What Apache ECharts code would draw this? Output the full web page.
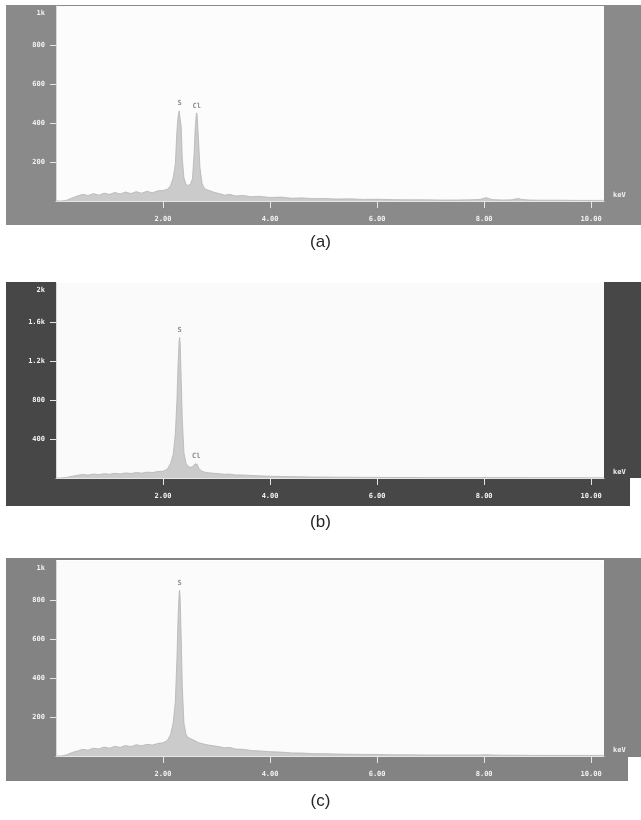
<!DOCTYPE html>
<html>
<head>
<meta charset="utf-8">
<script src="https://cdn.jsdelivr.net/npm/echarts@6/dist/echarts.min.js"></script>
<style>
  html, body { margin: 0; padding: 0; background: #ffffff; }
  #chart { width: 641px; height: 820px; }
</style>
</head>
<body>
<div id="chart"></div>
<script>
// Energy channels (keV) shared by the three EDS spectra
const energy = [
  0.00, 0.10, 0.20, 0.30, 0.40, 0.50, 0.60, 0.70, 0.80, 0.90,
  1.00, 1.10, 1.20, 1.30, 1.40, 1.50, 1.60, 1.70, 1.80, 1.90,
  2.00, 2.08, 2.14, 2.19, 2.23, 2.26, 2.28, 2.30, 2.31, 2.32, 2.34, 2.36, 2.39, 2.43, 2.47,
  2.51, 2.55, 2.58, 2.60, 2.62, 2.63, 2.64, 2.66, 2.69, 2.73, 2.78,
  2.85, 2.95, 3.05, 3.15, 3.25, 3.35, 3.50, 3.65, 3.80, 4.00,
  4.20, 4.40, 4.60, 4.80, 5.00, 5.25, 5.50, 5.75, 6.00, 6.30, 6.60, 6.90, 7.20, 7.50, 7.75,
  7.92, 8.00, 8.04, 8.08, 8.16, 8.35, 8.52, 8.60, 8.64, 8.70, 8.85, 9.10, 9.40, 9.70, 10.00, 10.24
];

// Counts, spectrum (a): S and Cl peaks
const countsA = [
  0, 0, 4, 16, 26, 34, 28, 38, 30, 40,
  34, 44, 36, 46, 38, 48, 40, 50, 42, 52,
  54, 60, 78, 120, 190, 360, 430, 462, 467, 455, 380, 215, 120, 85, 80,
  85, 115, 240, 370, 440, 452, 430, 330, 170, 90, 62,
  55, 45, 38, 30, 34, 26, 28, 22, 24, 18,
  20, 14, 16, 12, 13, 10, 11, 8, 9, 7, 6, 6, 5, 5, 6,
  8, 14, 18, 13, 7, 5, 6, 11, 13, 8, 5, 4, 4, 3, 3, 3
];

// Counts, spectrum (b): strong S peak, small Cl peak
const countsB = [
  0, 0, 6, 18, 28, 36, 30, 40, 34, 44,
  38, 48, 42, 52, 46, 56, 50, 60, 56, 66,
  70, 90, 150, 240, 450, 800, 1150, 1400, 1442, 1380, 1000, 600, 260, 150, 120,
  110, 115, 130, 145, 155, 150, 140, 110, 85, 70, 60,
  54, 48, 44, 38, 40, 32, 30, 26, 22, 18,
  16, 14, 12, 10, 10, 8, 8, 6, 6, 5, 5, 4, 4, 4, 4,
  4, 5, 6, 5, 4, 4, 4, 4, 4, 4, 3, 3, 3, 3, 2, 2
];

// Counts, spectrum (c): S peak only
const countsC = [
  0, 0, 6, 18, 26, 34, 30, 40, 36, 46,
  40, 50, 44, 54, 48, 58, 52, 60, 56, 64,
  68, 80, 110, 170, 280, 500, 700, 830, 850, 810, 600, 360, 170, 110, 95,
  90, 85, 80, 78, 76, 74, 72, 70, 66, 64, 60,
  56, 52, 48, 42, 44, 36, 34, 28, 26, 22,
  20, 16, 15, 12, 12, 10, 9, 8, 8, 6, 6, 5, 5, 5, 5,
  5, 6, 7, 6, 5, 4, 4, 4, 4, 4, 3, 3, 3, 3, 3, 3
];

// Peak identifications
const peakNamesA = ['S', 'Cl'];
const peakEnergiesA = [2.31, 2.63];
const peakNamesB = ['S', 'Cl'];
const peakEnergiesB = [2.31, 2.62];
const peakNamesC = ['S'];
const peakEnergiesC = [2.31];

// Axis ticks and labels
const xTickValues = [2, 4, 6, 8, 10];
const xTickLabels = ['2.00', '4.00', '6.00', '8.00', '10.00'];
const yTickValuesA = [200, 400, 600, 800, 1000];
const yTickLabelsA = ['200', '400', '600', '800', '1k'];
const yTickValuesB = [400, 800, 1200, 1600, 2000];
const yTickLabelsB = ['400', '800', '1.2k', '1.6k', '2k'];
const yTickValuesC = [200, 400, 600, 800, 1000];
const yTickLabelsC = ['200', '400', '600', '800', '1k'];
const captions = ['(a)', '(b)', '(c)'];

const X_MAX = 10.24;
const MONO = 'DejaVu Sans Mono';

const panels = [
  { top: 6,   counts: countsA, names: peakNamesA, peaks: peakEnergiesA, yVals: yTickValuesA, yLabs: yTickLabelsA, frame: '#8a8a8a', plot: '#fcfcfc' },
  { top: 283, counts: countsB, names: peakNamesB, peaks: peakEnergiesB, yVals: yTickValuesB, yLabs: yTickLabelsB, frame: '#474747', plot: '#fafafa' },
  { top: 561, counts: countsC, names: peakNamesC, peaks: peakEnergiesC, yVals: yTickValuesC, yLabs: yTickLabelsC, frame: '#838383', plot: '#fbfbfb' }
];

const PLOT_LEFT = 56, PLOT_W = 548, PLOT_H = 195;

const grids = [], xAxes = [], yAxes = [], series = [], graphics = [];

// Instrument-style frame strips around each plot
const strips = [
  // panel a
  { x: 6, y: 5, w: 50, h: 196, p: 0 }, { x: 6, y: 201, w: 635, h: 24, p: 0 }, { x: 604, y: 5, w: 37, h: 196, p: 0 }, { x: 56, y: 5, w: 548, h: 1, p: 0 },
  // panel b
  { x: 6, y: 282, w: 50, h: 196, p: 1 }, { x: 6, y: 478, w: 624, h: 28, p: 1 }, { x: 604, y: 282, w: 37, h: 196, p: 1 },
  // panel c
  { x: 6, y: 558, w: 50, h: 199, p: 2 }, { x: 6, y: 757, w: 622, h: 24, p: 2 }, { x: 604, y: 558, w: 37, h: 199, p: 2 }, { x: 56, y: 558, w: 548, h: 2, p: 2 }
];
strips.forEach(s => {
  graphics.push({
    type: 'rect', silent: true,
    shape: { x: s.x, y: s.y, width: s.w, height: s.h },
    style: { fill: panels[s.p].frame }
  });
});

panels.forEach((p, i) => {
  grids.push({
    left: PLOT_LEFT, top: p.top, width: PLOT_W, height: PLOT_H,
    show: true, backgroundColor: p.plot, borderWidth: 0
  });
  xAxes.push({
    gridIndex: i, type: 'value', min: 0, max: X_MAX,
    splitLine: { show: false },
    axisLine: { show: true, onZero: false, lineStyle: { color: '#e6e6e6', width: 1 } },
    axisTick: { show: true, length: 7, customValues: xTickValues, lineStyle: { color: '#e6e6e6', width: 1 } },
    axisLabel: {
      customValues: xTickValues, margin: 15,
      formatter: v => xTickLabels[xTickValues.indexOf(v)] || '',
      color: '#f2f2f2', fontFamily: MONO, fontSize: 7, fontWeight: 'bold'
    },
    name: 'keV', nameLocation: 'end', nameGap: 9,
    nameTextStyle: { color: '#f2f2f2', fontFamily: MONO, fontSize: 7, fontWeight: 'bold', verticalAlign: 'bottom', padding: [0, 0, 2, 0] }
  });
  const yMax = p.yVals[p.yVals.length - 1];
  yAxes.push({
    gridIndex: i, type: 'value', min: 0, max: yMax,
    splitLine: { show: false },
    axisLine: { show: true, onZero: false, lineStyle: { color: '#d8d8d8', width: 1 } },
    axisTick: { show: true, length: 6, customValues: p.yVals.slice(0, -1), lineStyle: { color: '#e6e6e6', width: 1 } },
    axisLabel: {
      customValues: p.yVals, margin: 11,
      formatter: v => {
        const t = p.yLabs[p.yVals.indexOf(v)] || '';
        return v === yMax ? '{top|' + t + '}' : t;
      },
      rich: { top: { padding: [14, 0, 0, 0] } },
      color: '#f2f2f2', fontFamily: MONO, fontSize: 7, fontWeight: 'bold'
    }
  });
  // spectrum as a filled histogram outline
  series.push({
    type: 'line', xAxisIndex: i, yAxisIndex: i,
    data: energy.map((e, j) => [e, p.counts[j]]),
    showSymbol: false, symbol: 'none', smooth: false, animation: false,
    lineStyle: { color: '#b4b4b4', width: 0.8 },
    areaStyle: { color: '#cbcbcb', opacity: 1 },
    z: 3
  });
  // element markers above the identified peaks
  series.push({
    type: 'scatter', xAxisIndex: i, yAxisIndex: i,
    data: p.peaks.map((e, k) => ({ value: [e, p.counts[energy.indexOf(e)]], name: p.names[k] })),
    symbolSize: 1, itemStyle: { color: 'rgba(0,0,0,0)' }, silent: true, animation: false,
    label: {
      show: true, position: 'top', distance: 3, formatter: '{b}',
      color: '#707070', fontFamily: MONO, fontSize: 7, fontWeight: 'bold'
    },
    z: 4
  });
});

const captionTops = [234, 514, 793];
const titles = captions.map((c, i) => ({
  text: c, left: 'center', top: captionTops[i], padding: 0,
  textStyle: { fontFamily: 'Liberation Sans', fontSize: 17, fontWeight: 'normal', color: '#262626' }
}));

const chart = echarts.init(document.getElementById('chart'), null, { renderer: 'canvas' });
chart.setOption({
  animation: false,
  backgroundColor: '#ffffff',
  title: titles,
  grid: grids,
  xAxis: xAxes,
  yAxis: yAxes,
  series: series,
  graphic: graphics
});
</script>
</body>
</html>
